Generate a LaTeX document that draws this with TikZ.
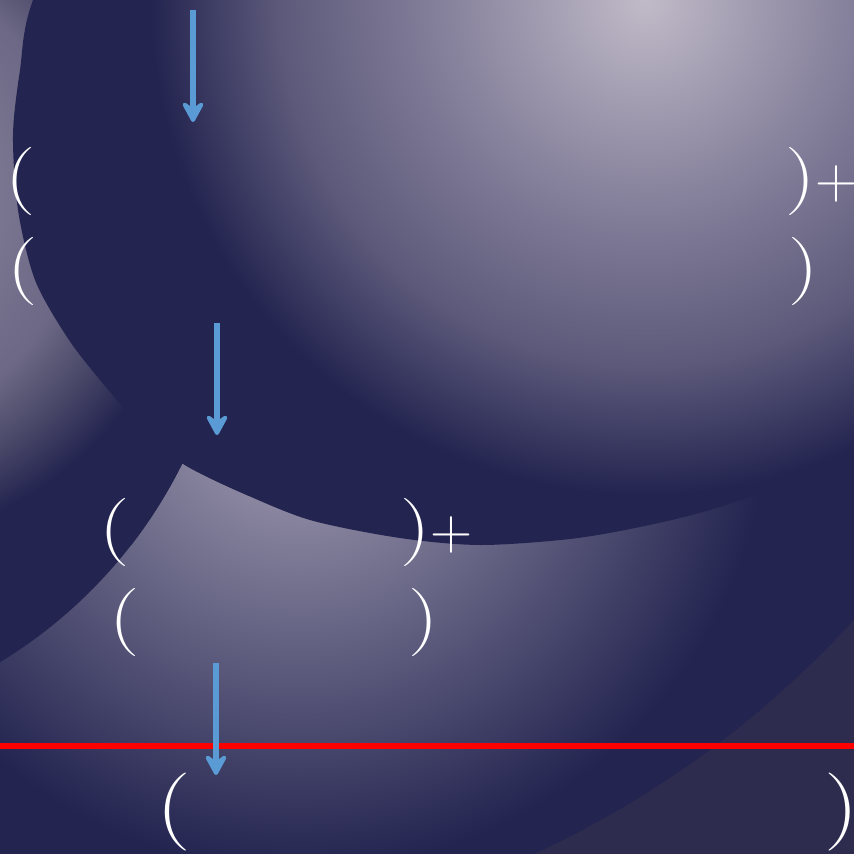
\documentclass[tikz,border=0pt]{standalone}
\usepackage{fontspec}
\usepackage{graphicx}
\usetikzlibrary{arrows.meta}

\definecolor{deepnavy}{RGB}{35,36,80}
\definecolor{slate}{RGB}{46,44,78}
\definecolor{arrowblue}{RGB}{91,155,213}
\definecolor{glowAin}{RGB}{192,186,200}
\definecolor{glowAmid}{RGB}{128,123,151}
\definecolor{glowAout}{RGB}{92,89,122}
\definecolor{glowBin}{RGB}{168,162,183}
\definecolor{glowBmid}{RGB}{102,100,132}
\definecolor{glowCin}{RGB}{150,145,170}
\definecolor{glowCmid}{RGB}{119,114,142}
\definecolor{glowCout}{RGB}{108,104,133}
\definecolor{glowCedge}{RGB}{75,73,105}

\pgfdeclareradialshading{glowA}{\pgfpoint{0bp}{0bp}}{color(0bp)=(glowAin); color(11.25bp)=(glowAmid); color(18.5bp)=(glowAout); color(25bp)=(deepnavy); color(50bp)=(deepnavy)}
\pgfdeclareradialshading{glowB}{\pgfpoint{0bp}{0bp}}{color(0bp)=(glowBin); color(12.5bp)=(glowBmid); color(25bp)=(deepnavy); color(50bp)=(deepnavy)}
\pgfdeclareradialshading{glowC}{\pgfpoint{0bp}{0bp}}{color(0bp)=(glowCin); color(11.8bp)=(glowCmid); color(16.7bp)=(glowCout); color(20.8bp)=(glowCedge); color(25bp)=(deepnavy); color(50bp)=(deepnavy)}

\newcommand{\stretchdelim}[1]{\scalebox{1.25}[1]{#1}}
\newcommand{\smallplus}{{\fontsize{16.6}{20}\selectfont+}}

\begin{document}
\begin{tikzpicture}[
  x=0.1mm, y=-0.1mm,
  paren/.style={text=white, inner sep=0pt, font=\fontsize{19.4}{23}\selectfont},
  bigparen/.style={paren, font=\fontsize{22.2}{26}\selectfont},
  flow/.style={-{Stealth[length=2.6mm, width=2.8mm, inset=1mm, round]}, line width=1.45pt, arrowblue},
  redrule/.style={line width=1.7pt, red}
]
\useasboundingbox (0,0) rectangle (854,854);
\clip (0,0) rectangle (854,854);
\fill[slate] (0,0) rectangle (854,854);

% background glows
\begin{scope}
  \clip (116,-55) circle (1000);
  \fill[deepnavy] (0,0) rectangle (854,854);
  \shade[shading=glowB] (-170,-70) rectangle (770,870);
\end{scope}
\begin{scope}
  \clip (-250,250) circle (482);
  \fill[deepnavy] (-300,-300) rectangle (300,800);
  \shade[shading=glowC] (-495,-145) rectangle (195,545);
\end{scope}
\begin{scope}
  \clip plot[smooth cycle] coordinates {(33,0) (20,70) (13,135) (18,210) (35,280) (67,337) (100,380) (150,437) (185,465) (240,492) (310,520) (400,538) (480,545) (570,539) (640,527) (710,510) (790,482) (854,449) (930,400) (1010,300) (1060,100) (1010,-150) (700,-300) (300,-260) (100,-150)};
  \fill[deepnavy] (-100,-400) rectangle (1100,700);
  \shade[shading=glowA] (150,-495) rectangle (1140,495);
\end{scope}

\node[paren] (l1) at (21,181) {\stretchdelim{(}};
\node[paren, anchor=west] (r1) at (785,181) {\stretchdelim{)}\smallplus};
\node[paren] (l2) at (23,271) {\stretchdelim{(}};
\node[paren, anchor=west] (r2) at (788,271) {\stretchdelim{)}};
\node[paren] (l3) at (115,532) {\stretchdelim{(}};
\node[paren, anchor=west] (r3) at (400,532) {\stretchdelim{)}\smallplus};
\node[paren] (l4) at (125,622) {\stretchdelim{(}};
\node[paren, anchor=west] (r4) at (408,622) {\stretchdelim{)}};
\node[bigparen] (l5) at (174,812) {\stretchdelim{(}};
\node[bigparen, anchor=west] (r5) at (824,812) {\stretchdelim{)}};

\coordinate (a1top) at (193,10);
\coordinate (a1tip) at (193,122);
\coordinate (a2top) at (217,323);
\coordinate (a2tip) at (217,435);
\coordinate (a3top) at (216,663);
\coordinate (a3tip) at (216,775);
\coordinate (redL) at (-5,746);
\coordinate (redR) at (860,746);

\draw[redrule] (redL) -- (redR);
\draw[flow] (a1top) -- (a1tip);
\draw[flow] (a2top) -- (a2tip);
\draw[flow] (a3top) -- (a3tip);

\end{tikzpicture}
\end{document}
